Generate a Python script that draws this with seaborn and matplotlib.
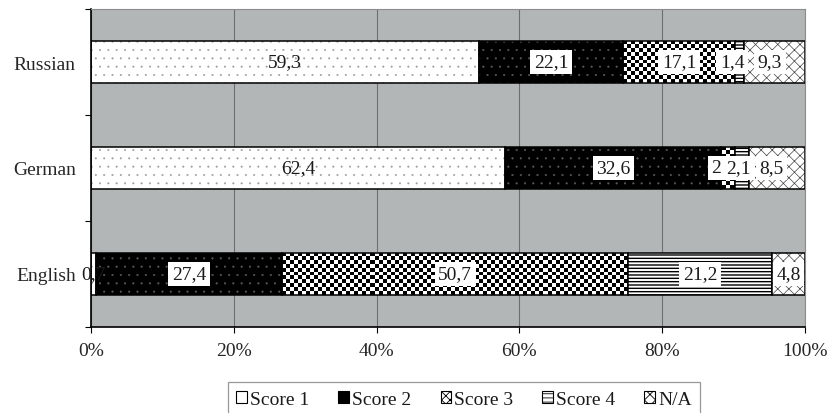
import numpy as np
import pandas as pd
import matplotlib
matplotlib.use("Agg")
import matplotlib.pyplot as plt
import matplotlib.colors as mcolors
from matplotlib.patches import Patch
import seaborn as sns

# ---- data ----
languages = ["Russian", "German", "English"]
score1 = [59.3, 62.4, 0.7]
score2 = [22.1, 32.6, 27.4]
score3 = [17.1, 2.0, 50.7]
score4 = [1.4, 2.1, 21.2]
score_na = [9.3, 8.5, 4.8]
series_names = ["Score 1", "Score 2", "Score 3", "Score 4", "N/A"]
xtick_values = [0, 20, 40, 60, 80, 100]
xtick_labels = ["0%", "20%", "40%", "60%", "80%", "100%"]

series = [score1, score2, score3, score4, score_na]
raw = np.array(series, dtype=float)          # shape (5, 3)
totals = raw.sum(axis=0)
pct = raw / totals * 100.0
lefts = np.vstack([np.zeros(3), np.cumsum(pct, axis=0)[:-1]])

# label nudges (points) to keep crowded labels readable, like the original
label_nudge = {(3, 0): -5.5, (4, 0): -3.3, (2, 1): -8.5, (3, 1): -2, (4, 1): -3.6}

# ---- style ----
sns.set_theme(style="white")
plt.rcParams["font.family"] = ["Liberation Serif", "DejaVu Serif"]
FS = 14

styles = [
    dict(face="white", hatch="..", hcolor="#9a9a9a", hlw=0.2),
    dict(face="black", hatch="..", hcolor="#5a5a5a", hlw=0.3),
    dict(face="white", hatch=None, hcolor="black", hlw=0.8),
    dict(face="white", hatch="-----", hcolor="black", hlw=1.0),
    dict(face="white", hatch="xxx", hcolor="#444444", hlw=0.5),
]

fig = plt.figure(figsize=(8.3, 4.14), dpi=100)
ax = fig.add_axes([91 / 830, 1 - 328 / 414, 714 / 830, 318 / 414])
ax.set_facecolor("#b3b6b6")

df_base = pd.DataFrame({"lang": languages})


def set_hcolor(p, c):
    rgba = mcolors.to_rgba(c)
    if hasattr(p, "set_hatchcolor"):
        try:
            p.set_hatchcolor(rgba)
            return
        except Exception:
            pass
    p._hatch_color = rgba


segment_patches = []
for i, (name, st) in enumerate(zip(series_names, styles)):
    plt.rcParams["hatch.linewidth"] = st["hlw"]
    d = df_base.copy()
    d["val"] = pct[i]
    n_before = len(ax.patches)
    kws = dict(left=lefts[i], edgecolor="black", linewidth=1.1, zorder=2)
    if st["hatch"]:
        kws["hatch"] = st["hatch"]
    sns.barplot(data=d, x="val", y="lang", order=languages, orient="h",
                color=st["face"], saturation=1, width=0.4, errorbar=None,
                ax=ax, **kws)
    new = ax.patches[n_before:]
    for p in new:
        set_hcolor(p, st["hcolor"])
        if hasattr(p, "set_hatch_linewidth"):
            try:
                p.set_hatch_linewidth(st["hlw"])
            except Exception:
                pass
    segment_patches.append(new)
plt.rcParams["hatch.linewidth"] = 0.8

ax.set_xlim(0, 100)
ax.set_ylim(2.5, -0.5)

# checkerboard fill for Score 3
for p in segment_patches[2]:
    p.set_facecolor("none")
    bb = p.get_bbox()
    (px0, py0), (px1, py1) = ax.transData.transform([[bb.x0, bb.y0], [bb.x1, bb.y1]])
    wpx, hpx = abs(px1 - px0), abs(py1 - py0)
    cell = 4.0
    nx = max(1, int(round(wpx / cell)))
    ny = max(1, int(round(hpx / cell)))
    arr = np.add.outer(np.arange(ny), np.arange(nx)) % 2
    im = ax.imshow(arr, cmap="gray", vmin=0, vmax=1, interpolation="nearest",
                   extent=[bb.x0, bb.x1, bb.y1, bb.y0], aspect="auto", zorder=1.5)
    im.set_clip_path(p)

ax.set_xlim(0, 100)
ax.set_ylim(2.5, -0.5)

# ---- labels ----
def fmt(v):
    return f"{v:g}".replace(".", ",")

for i in range(5):
    for j in range(3):
        cx = lefts[i][j] + pct[i][j] / 2
        box = None
        if i > 0:
            box = dict(facecolor="white", edgecolor="none", pad=2.5)
        ax.annotate(fmt(raw[i][j]), xy=(cx, j), xytext=(label_nudge.get((i, j), 0), 0),
                    textcoords="offset points", ha="center", va="center", fontsize=FS,
                    color="#1a1a1a", bbox=box, zorder=5)

# ---- axes ----
ax.set_xticks(xtick_values)
ax.set_xticklabels(xtick_labels, fontsize=FS)
ax.set_yticks([-0.5, 0.5, 1.5, 2.5])
ax.set_yticklabels([])
ax.set_yticks([0, 1, 2], minor=True)
ax.set_yticklabels(languages, minor=True, fontsize=FS)
ax.tick_params(axis="y", which="major", length=4, width=0.8, color="black", direction="out", left=True)
ax.tick_params(axis="y", which="minor", length=0, pad=11)
ax.tick_params(axis="x", which="major", length=4, width=0.8, color="black", direction="out", bottom=True, pad=7)
ax.set_xlabel("")
ax.set_ylabel("")
ax.set_axisbelow(True)
ax.xaxis.grid(True, color="#6e6e6e", linewidth=0.8)
ax.yaxis.grid(False)
for s in ["left", "bottom"]:
    ax.spines[s].set_color("black")
    ax.spines[s].set_linewidth(1.2)
for s in ["top", "right"]:
    ax.spines[s].set_color("#8c8c8c")
    ax.spines[s].set_linewidth(0.8)
    ax.spines[s].set_visible(True)

# ---- legend ----
legend_hatch = [None, None, "xxxx", "----", "xxx"]
handles = []
for name, st, lh in zip(series_names, styles, legend_hatch):
    h = Patch(facecolor=st["face"], edgecolor="black", linewidth=0.8,
              hatch=lh, label=name)
    handles.append(h)
plt.rcParams["hatch.linewidth"] = 0.6
leg = fig.legend(handles=handles, loc="upper center", ncol=5,
                 bbox_to_anchor=(464 / 830, 1 - 383 / 414), fontsize=FS,
                 frameon=True, fancybox=False, edgecolor="#7f7f7f",
                 handlelength=0.55, handleheight=0.55, handletextpad=0.15,
                 columnspacing=1.5, borderpad=0.45, borderaxespad=0)
leg.get_frame().set_linewidth(0.9)
for t in leg.get_texts():
    t.set_color("#1a1a1a")

fig.savefig("out.png", dpi=100)
